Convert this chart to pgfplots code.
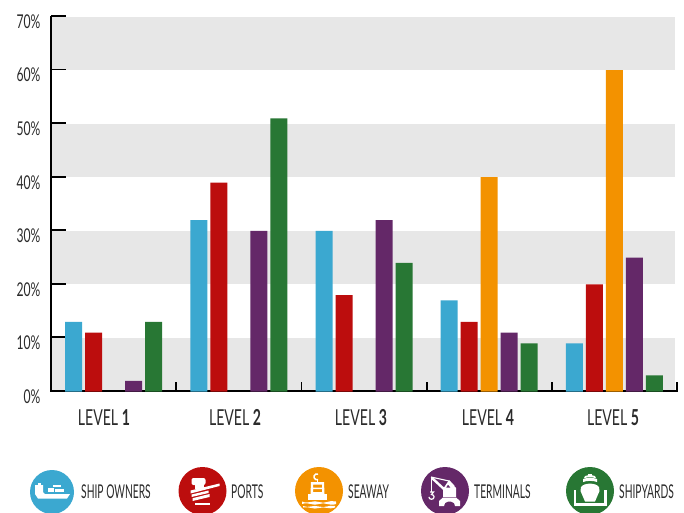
\documentclass[border=0pt]{standalone}
\usepackage{pgfplots}
\pgfplotsset{compat=1.18}
\usepackage{fontspec}
\setmainfont[FakeStretch=0.64]{Lato}
\newfontfamily\legfont[FakeStretch=0.54]{Lato}
\definecolor{cblue}{HTML}{3BA8D0}
\definecolor{cred}{HTML}{BC0D0D}
\definecolor{corange}{HTML}{F39200}
\definecolor{cpurple}{HTML}{642868}
\definecolor{cgreen}{HTML}{287734}
\definecolor{band}{HTML}{E7E7E7}
\definecolor{txt}{HTML}{2B2B2B}
\newcommand{\legtext}[1]{\fontsize{19}{19}\legfont\selectfont\color{txt}#1}
\begin{document}
\begin{tikzpicture}[x=1pt,y=1pt]
\clip (0,0) rectangle (684,512);
\begin{axis}[
  at={(51pt,120.5pt)}, anchor=origin, scale only axis, width=626pt, height=375pt,
  xmin=0, xmax=5, ymin=0, ymax=70, clip=false,
  axis line style={draw=none}, tick style={draw=none},
  xtick={0.423,1.470,2.476,3.490,4.489},
  xticklabels={LEVEL \textbf{1},LEVEL \textbf{2},LEVEL \textbf{3},LEVEL \textbf{4},LEVEL \textbf{5}},
  ytick={0,10,20,30,40,50,60,70},
  yticklabels={0\%,10\%,20\%,30\%,40\%,50\%,60\%,70\%},
  xticklabel style={font=\fontsize{22}{22}\selectfont, text=txt, anchor=center, yshift=-26pt},
  yticklabel style={font=\fontsize{19}{19}\selectfont, text=txt, anchor=east, yshift=-5pt, xshift=-7pt},
  /pgf/number format/assume math mode=true,
]
% bands
\addplot[fill=band,draw=none] coordinates {(0,0)(4.984,0)(4.984,10)(0,10)} -- cycle;
\addplot[fill=band,draw=none] coordinates {(0,20)(4.984,20)(4.984,30)(0,30)} -- cycle;
\addplot[fill=band,draw=none] coordinates {(0,40)(4.984,40)(4.984,50)(0,50)} -- cycle;
\addplot[fill=band,draw=none] coordinates {(0,60)(4.984,60)(4.984,70)(0,70)} -- cycle;
% axis lines and ticks
\addplot[black,line width=1.8pt] coordinates {(0,70.1)(0,0.1)(5,0.1)};
\addplot[black,line width=1.8pt,forget plot] coordinates {(0,10.1)(0.122,10.1)};
\addplot[black,line width=1.8pt,forget plot] coordinates {(0,20.1)(0.122,20.1)};
\addplot[black,line width=1.8pt,forget plot] coordinates {(0,30.1)(0.122,30.1)};
\addplot[black,line width=1.8pt,forget plot] coordinates {(0,40.1)(0.122,40.1)};
\addplot[black,line width=1.8pt,forget plot] coordinates {(0,50.1)(0.122,50.1)};
\addplot[black,line width=1.8pt,forget plot] coordinates {(0,60.1)(0.122,60.1)};
\addplot[black,line width=1.8pt,forget plot] coordinates {(0,70.1)(0.122,70.1)};
\addplot[black,line width=1.8pt,forget plot] coordinates {(1,0)(1,1.8)};
\addplot[black,line width=1.8pt,forget plot] coordinates {(2,0)(2,1.8)};
\addplot[black,line width=1.8pt,forget plot] coordinates {(3,0)(3,1.8)};
\addplot[black,line width=1.8pt,forget plot] coordinates {(4,0)(4,1.8)};
\addplot[black,line width=1.8pt,forget plot] coordinates {(5,0)(5,1.8)};
% bars
\addplot[ybar,bar width=17pt,bar shift=-40pt,fill=cblue,draw=none] coordinates {(0.5,13)(1.5,32)(2.5,30)(3.5,17)(4.5,9)};
\addplot[ybar,bar width=17pt,bar shift=-20pt,fill=cred,draw=none] coordinates {(0.5,11)(1.5,39)(2.5,18)(3.5,13)(4.5,20)};
\addplot[ybar,bar width=17pt,bar shift=0pt,fill=corange,draw=none] coordinates {(3.5,40)(4.5,60)};
\addplot[ybar,bar width=17pt,bar shift=20pt,fill=cpurple,draw=none] coordinates {(0.5,2)(1.5,30)(2.5,32)(3.5,11)(4.5,25)};
\addplot[ybar,bar width=17pt,bar shift=40pt,fill=cgreen,draw=none] coordinates {(0.5,13)(1.5,51)(2.5,24)(3.5,9)(4.5,3)};
\end{axis}
% legend icons
\fill[cblue] (52,20) circle (22);
\begin{scope}[shift={(52,20)},white]
  \fill (-17,7) -- (-9,7) -- (-9,0) -- (-7,-2) -- (18,-2) -- (15,-6.5) -- (-14,-6.5) -- (-17,-2) -- cycle;
  \fill (-14.5,6) rectangle (-11.5,9);
  \fill (-4,0) rectangle (2,4);
  \fill (3,0) rectangle (12,3.5);
  \fill (1,5) rectangle (9,7.5);
\end{scope}
\node[anchor=west,inner sep=0] at (81,20) {\legtext{SHIP OWNERS}};
% ports
\fill[cred] (202.5,21) circle (24);
\begin{scope}[shift={(202.5,21)},white]
  \fill[rounded corners=2pt] (-11,13) rectangle (3,6);
  \fill (-8,6) rectangle (1,2.5);
  \fill (-12,-2.5) -- (17,5) -- (17,7.5) -- (-12,0.5) -- cycle;
  \fill (-11,-6) -- (6,-2) -- (6,0.5) -- (-11,-3.5) -- cycle;
  \fill (-10,-10) -- (7,-6) -- (7,-3) -- (-10,-7.2) -- cycle;
  \fill (-8,-14) rectangle (7,-11.5);
\end{scope}
\node[anchor=west,inner sep=0] at (231,20) {\legtext{PORTS}};
% seaway
\fill[corange] (319,21) circle (24);
\begin{scope}[shift={(319,21)},white]
  \fill[even odd rule] (-8.5,-3) -- (-8,9) -- (5,9) -- (5.5,-3) -- cycle (-6,6.5) rectangle (3,3.5) (-6,2) rectangle (3,-1);
  \fill (-11.5,-2.5) rectangle (8,-9);
  \fill (-2.5,9) rectangle (-0.8,11);
  \draw[line width=1.5pt] (-1,17) arc (70:290:3 and 3);
  \fill (-17,-10.5) .. controls (-10,-13.5) and (-6,-8.5) .. (0,-11) .. controls (6,-13.5) and (10,-8.5) .. (17,-10.5) -- (17,-13) .. controls (10,-15.5) and (6,-10.5) .. (0,-13) .. controls (-6,-15.5) and (-10,-10.5) .. (-17,-13) -- cycle;
  \fill (-16,-15) .. controls (-10,-17.5) and (-6,-13.5) .. (0,-15.5) .. controls (6,-17.5) and (10,-13.5) .. (16,-15) -- (16,-16.5) .. controls (10,-19) and (6,-15) .. (0,-17) .. controls (-6,-19) and (-10,-15) .. (-16,-16.5) -- cycle;
\end{scope}
\node[anchor=west,inner sep=0] at (348,20) {\legtext{SEAWAY}};
% terminals
\fill[cpurple] (445,21) circle (24);
\begin{scope}[shift={(445,21)},white]
  \draw[line width=1.1pt] (-14,14) -- (4,10) -- (9,5);
  \draw[line width=2.4pt] (-13,13) -- (0,1);
  \draw[line width=1pt] (-13.5,14) -- (-13.5,-1);
  \draw[line width=1.2pt] (-15,-1) -- (-11.5,-1) -- (-13.5,-3.5) arc (90:-180:2.6 and 2.4);
  \fill[even odd rule] (-2,-6) -- (-2,2) -- (4,11) -- (11,3) -- (11,-6) -- cycle (3,6.5) -- (5.5,3.5) -- (1,3.5) -- cycle;
  \fill[even odd rule] (-6,-15) -- (-6,-10) -- (-2,-6.5) -- (11,-6.5) -- (15,-10) -- (15,-15) -- (10,-15) -- (9,-12) -- (6,-10.5) -- (3,-10.5) -- (0,-12) -- (-1,-15) -- cycle;
\end{scope}
\node[anchor=west,inner sep=0] at (474,20) {\legtext{TERMINALS}};
% shipyards
\fill[cgreen] (590,21) circle (24);
\begin{scope}[shift={(590,21)},white]
  \fill (-9,4) .. controls (-6,8.5) and (6,8.5) .. (9,4) -- (9.5,0) -- (5,-10.5) -- (-5,-10.5) -- (-9.5,0) -- cycle;
  \fill (-7,12) .. controls (-3,13.5) and (3,13.5) .. (7,12) -- (7,9) .. controls (3,10.5) and (-3,10.5) .. (-7,9) -- cycle;
  \fill (-5,15) .. controls (-2,16) and (2,16) .. (5,15) -- (6,12.8) .. controls (3,14) and (-3,14) .. (-6,12.8) -- cycle;
  \fill (-2,15.5) rectangle (2,17.5);
  \fill (-16.5,1) rectangle (-14,-12);
  \fill (14,1) rectangle (16.5,-12);
  \fill (-16.5,-12) rectangle (16.5,-14.5);
\end{scope}
\node[anchor=west,inner sep=0] at (619,20) {\legtext{SHIPYARDS}};
\end{tikzpicture}
\end{document}
